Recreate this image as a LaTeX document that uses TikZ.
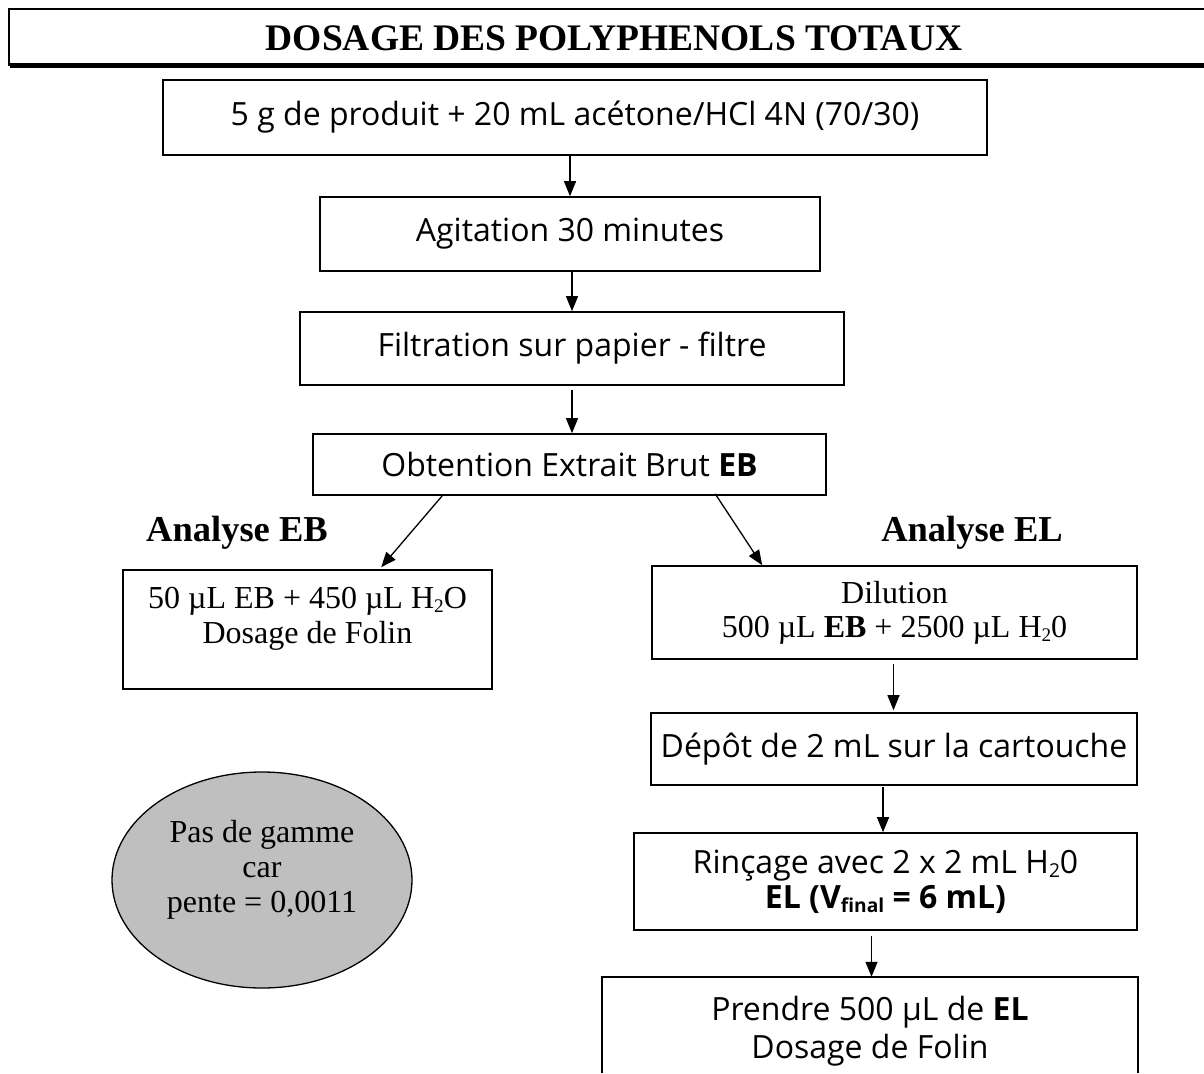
\documentclass[tikz,border=0pt]{standalone}
\usepackage{fontspec}
\usepackage{graphicx}
\setmainfont{Liberation Serif}
\newfontfamily\sansf{Open Sans}
\newcommand\smsub[1]{\raisebox{-0.12em}{\scalebox{0.6}{#1}}}
\usetikzlibrary{arrows.meta,shapes.geometric,calc}
\begin{document}
\begin{tikzpicture}[x=1pt,y=-1pt,
  frame/.style={draw,line width=1.6pt,inner sep=0pt},
  box/.style={frame,align=center,font=\sansf\fontsize{32}{35}\selectfont},
  sbox/.style={frame,align=center,font=\fontsize{32}{34}\selectfont},
  stext/.style={inner sep=0pt,align=center,font=\sansf\fontsize{32}{38}\selectfont},
  rtext/.style={inner sep=0pt,align=center,font=\fontsize{32}{35}\selectfont},
  head/.style={inner sep=0pt,font=\bfseries\fontsize{36.5}{40}\selectfont},
  arr/.style={line width=1.3pt,-{Triangle[length=15pt,width=12pt]}}]
\useasboundingbox (0,0) rectangle (1204,1073);
% title
\fill (10,63.5) rectangle (1204,68);
\draw[line width=2pt] (1204,9) -- (9,9) -- (9,65) -- (1204,65);
\node[inner sep=0pt,font=\bfseries\fontsize{37.5}{40}\selectfont] (title) at (614,38) {DOSAGE DES POLYPHENOLS TOTAUX};
% main column
\node[box,minimum width=824,minimum height=75] (b1) at (575,117.5) {5 g de produit + 20 mL acétone/HCl 4N (70/30)};
\node[box,minimum width=500,minimum height=74] (b2) at (570,234) {Agitation 30 minutes};
\node[box,minimum width=544,minimum height=73] (b3) at (572,348.5) {Filtration sur papier - filtre};
\node[box,minimum width=513,minimum height=61] (b4) at (569.5,464.5) {Obtention Extrait Brut \textbf{EB}};
\draw[arr] (b2.north |- b1.south) -- (b2.north);
\draw[arr] ($(b2.south)+(2,0)$) -- ($(b2.south |- b3.north)+(2,0)$);
\draw[arr] ($(b3.south)+(0,4)$) -- (b3.south |- b4.north);
% headings
\node[head] (hEB) at (237,533) {Analyse EB};
\node[head] (hEL) at (972,533) {Analyse EL};
% left branch
\node[frame,minimum width=369,minimum height=119] (b5) at (307.5,629.5) {};
\node[rtext] (t5) at (307.5,619) {50 µL EB + 450 µL H\smsub{2}O\\Dosage de Folin};
\node[ellipse,draw,fill=black!25,line width=1.3pt,minimum width=300,minimum height=216] (ell) at (262,880) {};
\node[rtext] (te) at (262,870) {Pas de gamme\\car\\pente = 0,0011};
% right branch
\node[sbox,minimum width=485,minimum height=93] (b6) at (894.5,612.5) {Dilution\\500 µL \textbf{EB} + 2500 µL H\smsub{2}0};
\node[box,minimum width=486,minimum height=72] (b7) at (894,749) {Dépôt de 2 mL sur la cartouche};
\node[box,minimum width=503,minimum height=97] (b8) at (885.5,881.5) {Rinçage avec 2 x 2 mL H\smsub{2}0\\\textbf{EL (V\smsub{final} = 6 mL)}};
\node[inner sep=0pt,minimum width=536,minimum height=96] (b9) at (870,1025) {};
\draw[line width=1.6pt] (b9.south west) -- (b9.north west) -- (b9.north east) -- (b9.south east);
\node[stext] (t9) at (870,1031) {Prendre 500 µL de \textbf{EL}\\Dosage de Folin};
% branch arrows
\draw[arr] ($(b4.south west)+(130,0)$) -- ($(b5.north west)+(259,-2)$);
\draw[arr] ($(b4.south west)+(403,-2)$) -- ($(b6.north west)+(111,0)$);
\draw[arr] ($(b6.south)+(-1,4)$) -- ($(b6.south |- b7.north)+(-1,-2)$);
\draw[arr] ($(b7.south)+(-11,1)$) -- ($(b7.south |- b8.north)+(-11,0)$);
\draw[arr] ($(b8.south)+(-14,5)$) -- ($(b8.south |- b9.north)+(-14,0)$);
\end{tikzpicture}
\end{document}
